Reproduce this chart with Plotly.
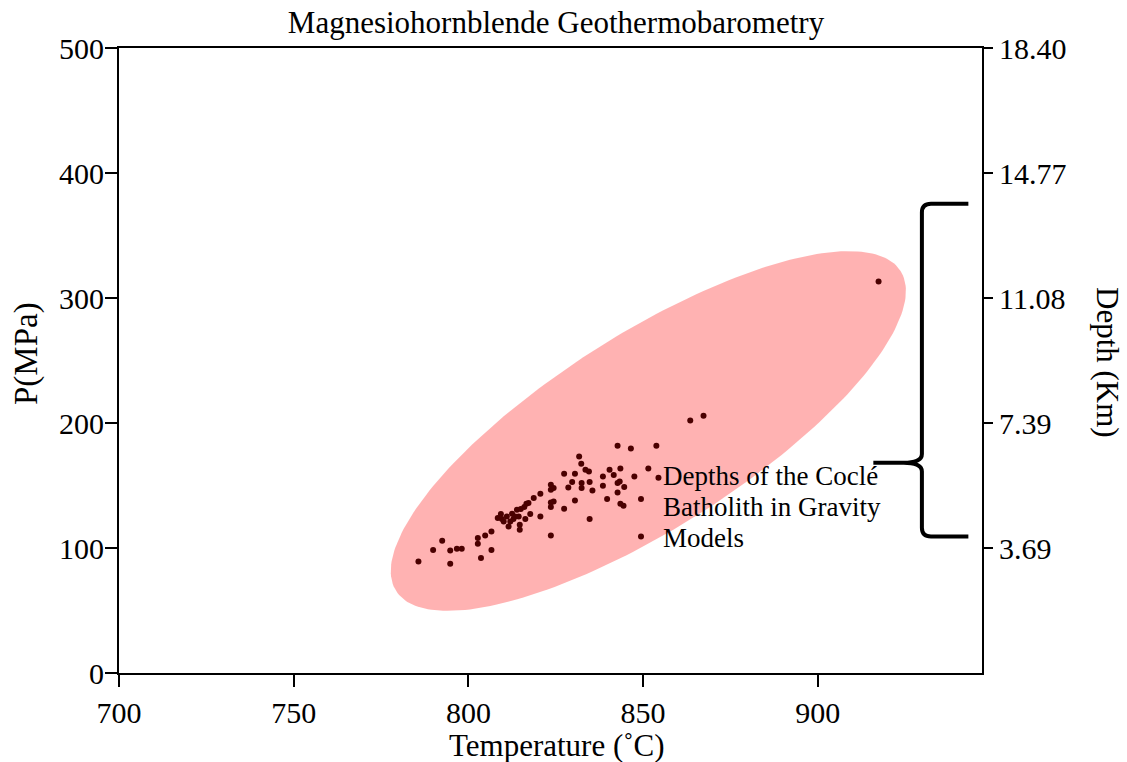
import numpy as np
import plotly.graph_objects as go

# ---- data ----
temperature_c = [785.7, 789.9, 792.5, 794.8, 794.8, 796.7, 798.1, 802.7, 802.7, 803.6, 804.8, 806.6, 806.6,
                 808.4, 809.3, 809.6, 810.1, 811.0, 811.5, 812.0, 812.5, 812.9, 813.4,
                 814.4, 814.7, 814.7, 813.9, 815.0, 816.0, 816.6, 817.2, 816.3, 817.7,
                 818.7, 820.6, 820.6, 823.6, 823.6, 823.6, 823.6, 823.6, 824.4, 824.4,
                 827.4, 827.4, 828.6, 829.7, 830.5, 830.5, 831.7, 832.3, 832.4, 832.4,
                 833.5, 834.5, 834.7, 834.7, 835.5,
                 838.5, 838.5, 839.7, 840.4, 841.6, 842.7, 843.3, 843.5, 842.7, 843.5,
                 844.4, 844.6, 842.7, 846.5, 847.5, 849.4, 851.5, 853.8, 854.4,
                 849.4, 863.5, 867.3, 917.4]
pressure_mpa = [89.3, 98.4, 105.8, 98.1, 87.4, 99.4, 99.4, 108.0, 103.4, 92.0, 110.1, 113.3, 98.4,
                124.0, 127.2, 123.2, 121.3, 125.3, 117.3, 121.3, 127.4, 123.2, 125.3,
                125.3, 118.6, 114.6, 130.6, 131.2, 132.8, 135.4, 136.0, 123.2, 127.2,
                140.0, 143.4, 125.3, 150.6, 146.6, 136.5, 132.8, 110.1, 148.0, 137.3,
                159.4, 131.4, 148.5, 152.8, 159.4, 138.1, 173.3, 167.4, 152.0, 148.0,
                162.6, 161.3, 152.8, 123.2, 146.1,
                157.3, 149.8, 139.2, 162.6, 158.4, 152.0, 153.3, 163.7, 144.5, 135.4,
                133.8, 148.8, 181.8, 179.7, 157.3, 139.2, 163.7, 181.8, 156.2,
                109.3, 202.1, 205.8, 313.3]

x_ticks = [700, 750, 800, 850, 900]
p_ticks = [0, 100, 200, 300, 400, 500]
depth_tick_pos = [100, 200, 300, 400, 500]
depth_tick_labels = ["3.69", "7.39", "11.08", "14.77", "18.40"]
label_lines = ["Depths of the Coclé", "Batholith in Gravity", "Models"]

# ellipse (data units): center, major and minor semi-axis vectors
ell_center = (851.5, 193.6)
ell_major = (72.2, 128.0)
ell_minor = (-14.9, 65.7)

# brace (data units)
brace_tip_x, brace_spine_x, brace_end_x = 915.9, 929.8, 943.1
brace_top_y, brace_mid_y, brace_bot_y = 375.4, 168.2, 109.3
brace_rx, brace_ry = 2.6, 7.0

FONT = "Liberation Serif"
PLOT_W, PLOT_H, L, T = 863, 625, 119, 48

t = np.linspace(0, 2 * np.pi, 241)
ex = ell_center[0] + ell_major[0] * np.cos(t) + ell_minor[0] * np.sin(t)
ey = ell_center[1] + ell_major[1] * np.cos(t) + ell_minor[1] * np.sin(t)

fig = go.Figure()
fig.add_trace(go.Scatter(x=ex, y=ey, mode="lines", fill="toself",
                         fillcolor="rgba(255,0,0,0.3)", line=dict(width=0),
                         hoverinfo="skip", showlegend=False))
fig.add_trace(go.Scatter(x=temperature_c, y=pressure_mpa, mode="markers", yaxis="y2",
                         marker=dict(size=6, color="#4a0000"), showlegend=False))

sx, tx, exx = brace_spine_x, brace_tip_x, brace_end_x
yt, ym, yb = brace_top_y, brace_mid_y, brace_bot_y
rx, ry = brace_rx, brace_ry
path = (f"M {exx},{yt} L {sx+rx},{yt} Q {sx},{yt} {sx},{yt-ry} "
        f"L {sx},{ym+ry} Q {sx},{ym} {sx-rx*2},{ym} L {tx},{ym} "
        f"M {sx-rx*2},{ym} Q {sx},{ym} {sx},{ym-ry} "
        f"L {sx},{yb+ry} Q {sx},{yb} {sx+rx},{yb} L {exx},{yb}")
fig.add_shape(type="path", path=path, xref="x", yref="y",
              line=dict(color="black", width=4))

for i, line in enumerate(label_lines):
    fig.add_annotation(x=855.0, y=158.0, xref="x", yref="y", xanchor="left", yanchor="middle",
                       align="left", showarrow=False, yshift=-31 * i, text=line,
                       font=dict(family=FONT, size=27, color="black"))


def px_to_paper(px, py):
    return (px - L) / PLOT_W, (T + PLOT_H - py) / PLOT_H


# axis titles placed as annotations
for text, (px, py), ang, size in [("Depth (Km)", (1108, 362), 90, 31),
                                   ("P(MPa)", (26, 354), -90, 33),
                                   ("Temperature (˚C)", (556.5, 745), 0, 31)]:
    ax_, ay_ = px_to_paper(px, py)
    fig.add_annotation(x=ax_, y=ay_, xref="paper", yref="paper", xanchor="center",
                       yanchor="middle", showarrow=False, textangle=ang, text=text,
                       font=dict(family=FONT, size=size, color="black"))

axis_common = dict(showgrid=False, zeroline=False, showline=True, linecolor="black",
                   linewidth=2, ticks="outside", tickcolor="black", tickwidth=2,
                   automargin=False,
                   tickfont=dict(family=FONT, size=30, color="black"))

fig.update_layout(
    width=1127, height=762,
    margin=dict(l=L, r=1127 - L - PLOT_W, t=T, b=762 - T - PLOT_H, autoexpand=False),
    paper_bgcolor="white", plot_bgcolor="white",
    title=dict(text="Magnesiohornblende Geothermobarometry", x=556 / 1127, xanchor="center",
               y=1 - 22 / 762, yanchor="middle", yref="container",
               font=dict(family=FONT, size=31, color="black")),
    xaxis=dict(range=[700, 947], tickvals=x_ticks, ticklen=12, mirror=True, **axis_common),
    yaxis=dict(range=[0, 500], tickvals=p_ticks, ticklen=12, ticklabelstandoff=-5,
               **axis_common),
    yaxis2=dict(range=[0, 500], overlaying="y", side="right", anchor="x",
                tickvals=depth_tick_pos, ticktext=depth_tick_labels, ticklen=9,
                **axis_common),
)

fig.write_html("out.html")
